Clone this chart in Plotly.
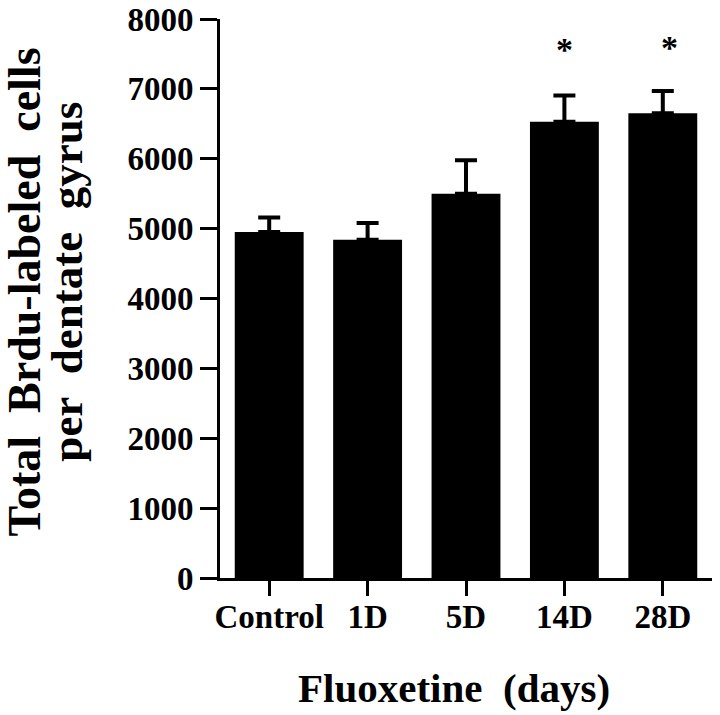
import plotly.graph_objects as go

categories = ["Control", "1D", "5D", "14D", "28D"]
means = [4950, 4840, 5500, 6530, 6650]
sem = [210, 240, 480, 375, 320]
sig_labels = ["", "", "", "*", "*"]
sig_y = [None, None, None, 7560, 7590]
sig_xshift = [0, 0, 0, 0, 7]

FONT = "Liberation Serif, Times New Roman, serif"

fig = go.Figure()
fig.add_trace(go.Bar(
    x=categories, y=means,
    marker=dict(color="black", line=dict(width=0)),
    error_y=dict(type="data", array=sem, arrayminus=[0]*len(sem), symmetric=False,
                 color="black", thickness=4, width=11),
    showlegend=False,
))

annotations = []
for c, lab, yy, xs in zip(categories, sig_labels, sig_y, sig_xshift):
    if lab:
        annotations.append(dict(x=c, y=yy, xref="x", yref="y", text="<b>*</b>", xshift=xs,
                                showarrow=False, font=dict(family=FONT, size=34, color="black"),
                                yanchor="middle"))

annotations.append(dict(x=-0.397, y=0.512, xref="paper", yref="paper",
                        text="<b>Total\u00a0\u00a0Brdu-labeled\u00a0\u00a0cells</b>", textangle=-90,
                        showarrow=False, font=dict(family=FONT, size=46, color="black"),
                        xanchor="center", yanchor="middle"))
annotations.append(dict(x=-0.31, y=0.531, xref="paper", yref="paper",
                        text="<b>per\u00a0\u00a0dentate\u00a0\u00a0gyrus</b>", textangle=-90,
                        showarrow=False, font=dict(family=FONT, size=45, color="black"),
                        xanchor="center", yanchor="middle"))
annotations.append(dict(x=0.475, y=-0.197, xref="paper", yref="paper",
                        text="<b>Fluoxetine\u00a0\u00a0(days)</b>",
                        showarrow=False, font=dict(family=FONT, size=41, color="black"),
                        xanchor="center", yanchor="middle"))

fig.update_layout(
    width=720, height=715,
    margin=dict(l=220, r=8, t=19, b=137),
    plot_bgcolor="white", paper_bgcolor="white",
    bargap=0.3,
    annotations=annotations,
    font=dict(family=FONT, color="black"),
)
fig.update_xaxes(
    automargin=False,
    showline=True, linecolor="black", linewidth=3,
    ticks="outside", ticklen=15, tickwidth=3, tickcolor="black",
    ticklabelstandoff=-8,
    tickfont=dict(family=FONT, size=33, color="black", weight="bold"),
    showgrid=False, zeroline=False,
)
fig.update_yaxes(
    automargin=False,
    range=[0, 8000], tickvals=[0, 1000, 2000, 3000, 4000, 5000, 6000, 7000, 8000],
    showline=True, linecolor="black", linewidth=3,
    ticks="outside", ticklen=17, tickwidth=3, tickcolor="black",
    tickfont=dict(family=FONT, size=33, color="black", weight="bold"),
    showgrid=False, zeroline=False,
)

fig.write_html("out.html", config={"displayModeBar": False},
               post_script="document.body.style.margin='0';document.body.style.overflow='hidden';")
